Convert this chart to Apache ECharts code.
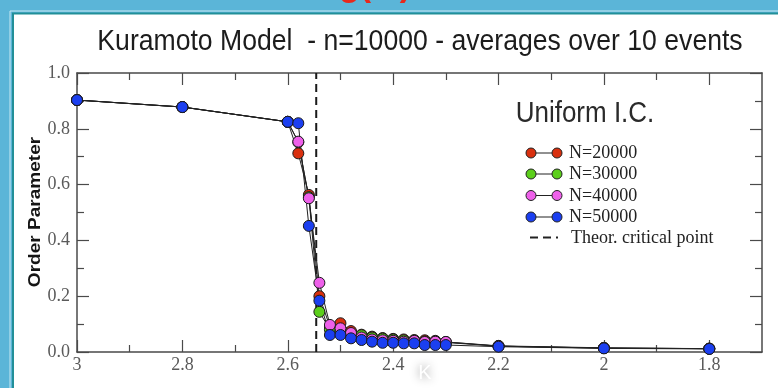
<!DOCTYPE html>
<html>
<head>
<meta charset="utf-8">
<script src="https://cdn.jsdelivr.net/npm/echarts@6/dist/echarts.min.js"></script>
<style>html,body{margin:0;padding:0;background:#5bb5d8;}#chart{width:778px;height:388px;}</style>
</head>
<body>
<div id="chart"></div>
<script>
// ---- data ----
const K = [3, 2.8, 2.6, 2.58, 2.56, 2.54, 2.52, 2.50, 2.48, 2.46, 2.44, 2.42, 2.40, 2.38, 2.36, 2.34, 2.32, 2.30, 2.2, 2.0, 1.8];
const N20000 = [0.903, 0.878, 0.825, 0.712, 0.563, 0.200, 0.090, 0.103, 0.075, 0.062, 0.055, 0.050, 0.047, 0.045, 0.043, 0.042, 0.040, 0.036, 0.022, 0.015, 0.012];
const N30000 = [0.903, 0.878, 0.825, 0.752, 0.555, 0.144, 0.080, 0.075, 0.065, 0.060, 0.052, 0.048, 0.045, 0.042, 0.040, 0.038, 0.037, 0.034, 0.021, 0.014, 0.012];
const N40000 = [0.903, 0.878, 0.825, 0.754, 0.551, 0.248, 0.097, 0.085, 0.068, 0.052, 0.045, 0.042, 0.040, 0.037, 0.040, 0.036, 0.037, 0.036, 0.021, 0.014, 0.012];
const N50000 = [0.903, 0.878, 0.825, 0.820, 0.452, 0.184, 0.061, 0.061, 0.049, 0.043, 0.037, 0.033, 0.033, 0.031, 0.031, 0.025, 0.025, 0.025, 0.019, 0.013, 0.011];
const KC = 2.546; // theoretical critical point
const seriesNames = ['N=20000', 'N=30000', 'N=40000', 'N=50000'];
const criticalName = 'Theor. critical point';
const xMajorTicks = [3, 2.8, 2.6, 2.4, 2.2, 2.0, 1.8];
const xMinorTicks = [2.9, 2.7, 2.5, 2.3, 2.1, 1.9];
const titleText = 'Kuramoto Model  - n=10000 - averages over 10 events';
const yName = 'Order Parameter';
const subTitle = 'Uniform I.C.';

// ---- styles ----
const colors = ['#d9300f', '#5ccf1c', '#ee60ea', '#1b3ff0'];
const values = [N20000, N30000, N40000, N50000];
const axisColor = '#4a4a4a';
const labelStyle = { fontFamily: '"Liberation Serif", serif', fontSize: 18, color: '#5a5a5a' };

const chart = echarts.init(document.getElementById('chart'));

function xAx(position, ticks, len, showLine, showLabel) {
  return {
    type: 'value', min: 1.7, max: 3, inverse: true, position: position,
    splitLine: { show: false },
    axisLine: { show: showLine, onZero: false, lineStyle: { color: axisColor, width: 1.5 } },
    axisTick: { show: true, inside: true, length: len, customValues: ticks, lineStyle: { color: axisColor, width: 1.2 } },
    axisLabel: Object.assign({ show: showLabel, customValues: ticks, margin: 4 }, labelStyle)
  };
}
function yAx(position, showLabel) {
  return {
    type: 'value', min: 0, max: 1, interval: 0.2, position: position,
    splitLine: { show: false },
    axisLine: { show: true, onZero: false, lineStyle: { color: axisColor, width: 1.5 } },
    axisTick: { show: true, inside: true, length: 12, lineStyle: { color: axisColor, width: 1.2 } },
    minorTick: { show: true, splitNumber: 2, length: 7, lineStyle: { color: axisColor, width: 1.2 } },
    axisLabel: Object.assign({ show: showLabel, margin: 7, formatter: v => v.toFixed(1) }, labelStyle)
  };
}

const series = values.map((vals, i) => ({
  name: seriesNames[i], type: 'line', xAxisIndex: 0, yAxisIndex: 0,
  data: K.map((k, j) => [k, vals[j]]),
  symbol: 'circle', symbolSize: 11,
  itemStyle: { color: colors[i], borderColor: '#1a1a1a', borderWidth: 1 },
  lineStyle: { color: '#222', width: 1 },
  emphasis: { disabled: true }, animation: false, z: 3
}));
series.push({
  name: criticalName, type: 'line', xAxisIndex: 0, yAxisIndex: 0,
  data: [[KC, 0], [KC, 1]], symbol: 'none',
  lineStyle: { color: '#1a1a1a', width: 2, type: [8, 5] }, animation: false, z: 2
});

// legend built as graphics
const legendX0 = 531, legendX1 = 557, legendTextX = 569;
const rowY = [153, 174, 195.5, 217, 237.5];
const legendGraphics = [];
seriesNames.forEach((n, i) => {
  legendGraphics.push({ type: 'line', shape: { x1: legendX0, y1: rowY[i], x2: legendX1, y2: rowY[i] }, style: { stroke: '#222', lineWidth: 1 } });
  legendGraphics.push({ type: 'circle', shape: { cx: legendX0, cy: rowY[i], r: 5 }, style: { fill: colors[i], stroke: '#222', lineWidth: 1 } });
  legendGraphics.push({ type: 'circle', shape: { cx: legendX1, cy: rowY[i], r: 5 }, style: { fill: colors[i], stroke: '#222', lineWidth: 1 } });
  legendGraphics.push({ type: 'text', x: legendTextX, y: rowY[i], scaleY: 1.1, style: { text: n, font: '18px "Liberation Serif"', fill: '#222', align: 'left', verticalAlign: 'middle' } });
});
legendGraphics.push({ type: 'line', shape: { x1: legendX0 - 1, y1: rowY[4], x2: legendX1 + 1, y2: rowY[4] }, style: { stroke: '#222', lineWidth: 2, lineDash: [8, 5] } });
legendGraphics.push({ type: 'text', x: legendTextX + 2, y: rowY[4], scaleY: 1.1, style: { text: criticalName, font: '18px "Liberation Serif"', fill: '#222', align: 'left', verticalAlign: 'middle' } });

const option = {
  backgroundColor: '#5bb5d8',
  animation: false,
  grid: { left: 77, right: 16, top: 73, bottom: 36, containLabel: false, outerBoundsMode: 'none' },
  xAxis: [
    xAx('bottom', xMajorTicks, 12, true, true),
    xAx('bottom', xMinorTicks, 7, false, false),
    xAx('top', xMajorTicks, 12, true, false),
    xAx('top', xMinorTicks, 7, false, false)
  ],
  yAxis: [yAx('left', true), yAx('right', false)],
  series: series,
  graphic: [
    { type: 'text', x: 375, y: 4, z: -20, style: { text: 'g(ω)', font: 'bold 34px "Liberation Sans"', fill: '#e8281c', align: 'center', verticalAlign: 'bottom' } },
    { type: 'rect', z: -10, shape: { x: 13, y: 14, width: 765, height: 374 }, style: { fill: '#ffffff' } },
    { type: 'line', z: -9, shape: { x1: 10, y1: 11, x2: 10, y2: 388 }, style: { stroke: '#cbe9f3', lineWidth: 1 } },
    { type: 'line', z: -9, shape: { x1: 10, y1: 11, x2: 778, y2: 11 }, style: { stroke: '#cbe9f3', lineWidth: 1 } },
    { type: 'line', z: -9, shape: { x1: 13, y1: 13.5, x2: 13, y2: 388 }, style: { stroke: '#228f98', lineWidth: 2 } },
    { type: 'line', z: -9, shape: { x1: 12, y1: 13.5, x2: 778, y2: 13.5 }, style: { stroke: '#228f98', lineWidth: 2 } },
    { type: 'text', x: 420, y: 42, scaleX: 0.985, scaleY: 1.1, style: { text: titleText, font: '27px "Liberation Sans"', fill: '#1c1c1c', align: 'center', verticalAlign: 'middle' } },
    { type: 'text', x: 585, y: 114, scaleY: 1.12, style: { text: subTitle, font: '26px "Liberation Sans"', fill: '#2a2a2a', align: 'center', verticalAlign: 'middle' } },
    { type: 'text', x: 35, y: 212, rotation: Math.PI / 2, scaleX: 1.12, style: { text: yName, font: 'bold 17px "Liberation Sans"', fill: '#151515', align: 'center', verticalAlign: 'middle' } },
    { type: 'text', x: 425, y: 373, style: { text: 'K', font: '20px "Liberation Sans"', fill: '#ffffff', align: 'center', verticalAlign: 'middle', textShadowColor: '#8a8a8a', textShadowBlur: 10 } }
  ].concat(legendGraphics)
};
chart.setOption(option);
</script>
</body>
</html>
